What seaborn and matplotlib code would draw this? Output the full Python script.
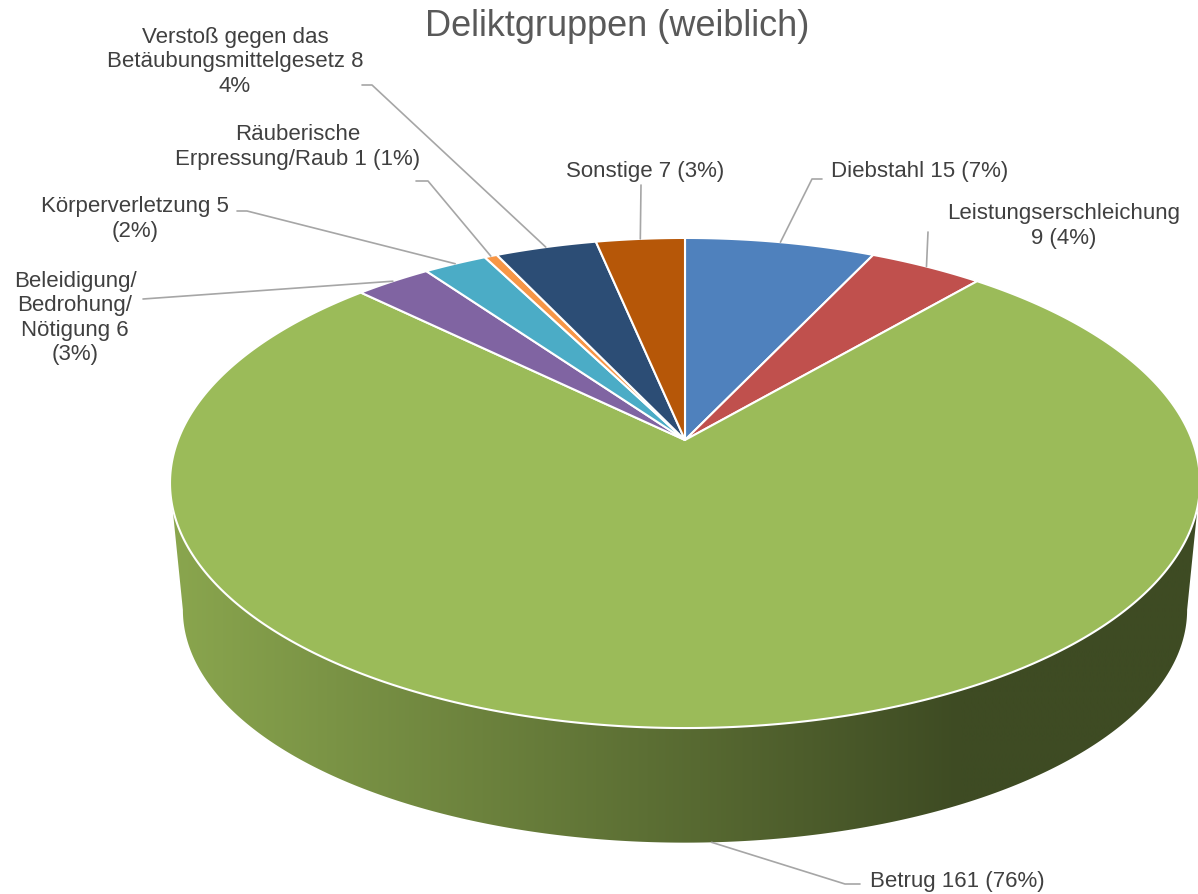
import numpy as np
import matplotlib
matplotlib.use('Agg')
import matplotlib.pyplot as plt
from matplotlib.patches import Polygon
import seaborn as sns

# ── data ────────────────────────────────────────────────────────
categories = ['Diebstahl', 'Leistungserschleichung', 'Betrug',
              'Beleidigung/Bedrohung/Nötigung', 'Körperverletzung',
              'Räuberische Erpressung/Raub', 'Verstoß gegen das Betäubungsmittelgesetz',
              'Sonstige']
counts = [15, 9, 161, 6, 5, 1, 8, 7]
label_texts = ['Diebstahl 15 (7%)',
               'Leistungserschleichung\n9 (4%)',
               'Betrug 161 (76%)',
               'Beleidigung/\nBedrohung/\nNötigung 6\n(3%)',
               'Körperverletzung 5\n(2%)',
               'Räuberische\nErpressung/Raub 1 (1%)',
               'Verstoß gegen das\nBetäubungsmittelgesetz 8\n4%',
               'Sonstige 7 (3%)']
title = 'Deliktgruppen (weiblich)'

palette = sns.color_palette(['#4F81BD', '#C0504D', '#9BBB59', '#8064A2',
                             '#4BACC6', '#F79646', '#2C4D75', '#B65708'])

# ── 3D pie geometry (pixel space) ───────────────────────────────
CX, CY = 685, 440             # apex of the pie
A, B, K = 507, 237.5, 0.1755  # half axes + perspective factor
DEPTH = 129                   # drop of the bottom rim
BOT_SX, BOT_SY = 0.975, 0.95  # bottom rim is further away -> smaller


def rim(theta_deg, bottom=False):
    t = np.radians(theta_deg)
    u, v = np.sin(t), np.cos(t)
    den = 1 + K * v
    if bottom:
        return CX + BOT_SX * A * u / den, CY + DEPTH - BOT_SY * B * v / den
    return CX + A * u / den, CY - B * v / den


sns.set_theme(style='white')
plt.rcParams['font.family'] = ['Liberation Sans', 'DejaVu Sans']

fig = plt.figure(figsize=(11.98, 8.94), dpi=100)
ax = fig.add_axes([0, 0, 1, 1])

fracs = np.array(counts) / np.sum(counts)
edges = np.concatenate([[0], np.cumsum(fracs)]) * 360

# side of the disc: silhouette runs between the left/right extremes
th_ext = np.degrees(np.arccos(-K))
th = np.linspace(th_ext, 360 - th_ext, 300)
top_pts = [rim(a) for a in th]
bot_pts = [rim(a, bottom=True) for a in th[::-1]]
side = Polygon(top_pts + bot_pts, closed=True, fill=False, lw=0, zorder=1)
ax.add_patch(side)
gx = np.linspace(150, 1200, 600)
t = np.clip((gx - 170) / (960 - 170), 0, 1)[:, None]
light = np.array([138, 166, 78]) / 255
dark = np.array([62, 75, 35]) / 255
grad = (light * (1 - t) + dark * t)[None, :, :]
im = ax.imshow(grad, extent=(150, 1200, 900, 400), aspect='auto', zorder=1)
im.set_clip_path(side)

# top face wedges
for i, col in enumerate(palette):
    a0, a1 = edges[i], edges[i + 1]
    n = max(3, int((a1 - a0) * 2))
    pts = [(CX, CY)] + [rim(a) for a in np.linspace(a0, a1, n)]
    ax.add_patch(Polygon(pts, closed=True, facecolor=col, edgecolor='white',
                         lw=1.5, joinstyle='round', zorder=3))

# labels + leader lines
label_pos = [(920, 172), (1064, 226), (957, 882), (75, 318),
             (135, 219), (298, 147), (235, 62), (645, 172)]
leaders = [[(822, 179), (812, 179)],
           [(928, 232)],
           [(860, 884), (845, 884)],
           [(143, 299)],
           [(237, 211), (247, 211)],
           [(416, 181), (428, 181)],
           [(362, 85), (372, 85)],
           [(641, 185)]]
for i, txt in enumerate(label_texts):
    mid = (edges[i] + edges[i + 1]) / 2
    end = rim(mid, bottom=(categories[i] == 'Betrug'))
    path = leaders[i] + [end]
    xs, ys = zip(*path)
    ax.plot(xs, ys, color='#A6A6A6', lw=1.2, zorder=4)
    ax.text(*label_pos[i], txt, ha='center', va='center', fontsize=16,
            color='#404040', linespacing=1.2, zorder=5)

ax.text(617, 27, title, ha='center', va='center', fontsize=26, color='#595959')

ax.set_xlim(0, 1198)
ax.set_ylim(894, 0)
ax.axis('off')

plt.savefig('out.png', dpi=100, facecolor='white')
plt.close()
